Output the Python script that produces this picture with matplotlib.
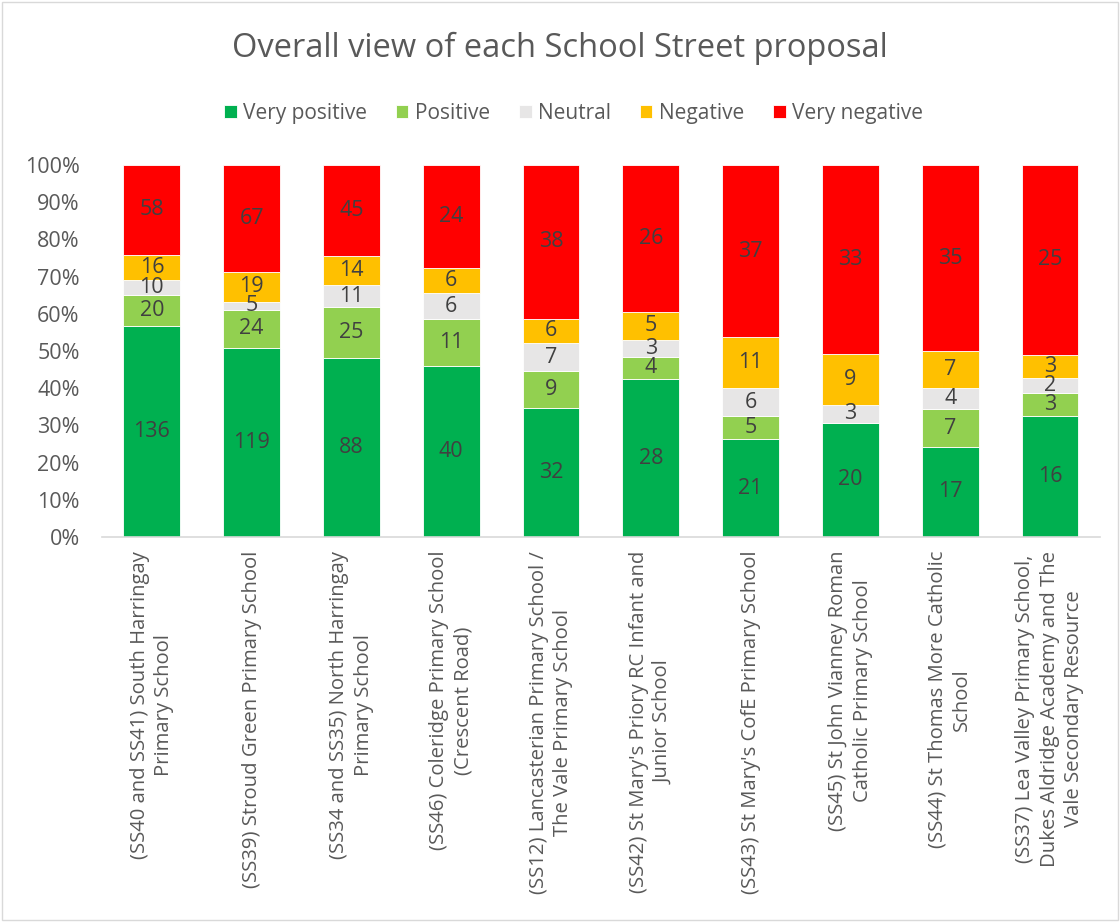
import matplotlib
matplotlib.use("Agg")
import matplotlib.pyplot as plt
import numpy as np
from matplotlib.patches import Rectangle

plt.rcParams['font.family'] = ['Open Sans', 'DejaVu Sans']

categories = [
    "(SS40 and SS41) South Harringay\nPrimary School",
    "(SS39) Stroud Green Primary School",
    "(SS34 and SS35) North Harringay\nPrimary School",
    "(SS46) Coleridge Primary School\n(Crescent Road)",
    "(SS12) Lancasterian Primary School /\nThe Vale Primary School",
    "(SS42) St Mary's Priory RC Infant and\nJunior School",
    "(SS43) St Mary's CofE Primary School",
    "(SS45) St John Vianney Roman\nCatholic Primary School",
    "(SS44) St Thomas More Catholic\nSchool",
    "(SS37) Lea Valley Primary School,\nDukes Aldridge Academy and The\nVale Secondary Resource",
]
very_positive = [136, 119, 88, 40, 32, 28, 21, 20, 17, 16]
positive = [20, 24, 25, 11, 9, 4, 5, 0, 7, 3]
neutral = [10, 5, 11, 6, 7, 3, 6, 3, 4, 2]
negative = [16, 19, 14, 6, 6, 5, 11, 9, 7, 3]
very_negative = [58, 67, 45, 24, 38, 26, 37, 33, 35, 25]

series_names = ["Very positive", "Positive", "Neutral", "Negative", "Very negative"]
series = [very_positive, positive, neutral, negative, very_negative]
colors = ["#00B050", "#92D050", "#E7E6E6", "#FFC000", "#FF0000"]
yticks = [0, 0.1, 0.2, 0.3, 0.4, 0.5, 0.6, 0.7, 0.8, 0.9, 1.0]
ytick_labels = ["0%", "10%", "20%", "30%", "40%", "50%", "60%", "70%", "80%", "90%", "100%"]

fig = plt.figure(figsize=(11.2, 9.22), dpi=100)
ax = fig.add_axes([0.091, 0.4176, 0.891, 0.4034])

data = np.array(series, dtype=float)
totals = data.sum(axis=0)
x = np.arange(len(categories))
bottom = np.zeros(len(categories))
text_color = "#404040"
for name, vals, col in zip(series_names, data, colors):
    frac = vals / totals
    ax.bar(x, frac, 0.57, bottom=bottom, color=col, label=name,
           edgecolor="white", linewidth=0.6)
    for xi, v, f, b in zip(x, vals, frac, bottom):
        if v > 0:
            ax.text(xi, b + f / 2, f"{int(v)}", ha="center", va="center",
                    fontsize=15.5, color=text_color)
    bottom += frac

ax.set_xlim(-0.5, len(categories) - 0.5)
ax.set_ylim(0, 1)
ax.set_yticks(yticks)
ax.set_yticklabels(ytick_labels, fontsize=15.5, color="#595959")
ax.set_xticks(x)
ax.set_xticklabels(categories, rotation=90, fontsize=14.6, color="#595959",
                   ha="center", va="top", multialignment="center", linespacing=1.3)
ax.tick_params(axis="y", length=0, pad=16)
ax.tick_params(axis="x", length=0, pad=10)
for s in ["top", "right", "left"]:
    ax.spines[s].set_visible(False)
ax.spines["bottom"].set_color("#D9D9D9")
ax.spines["bottom"].set_linewidth(1.2)

fig.text(0.5, 0.948, "Overall view of each School Street proposal", ha="center",
         va="center", fontsize=23.5, color="#595959")
fig.legend(loc="center", bbox_to_anchor=(0.512, 0.877), ncol=5, frameon=False,
           fontsize=15, handlelength=0.6, handleheight=0.6, handletextpad=0.3,
           columnspacing=1.4, labelcolor="#595959")

fig.patches.append(Rectangle((0.002, 0.002), 0.996, 0.996, transform=fig.transFigure,
                             fill=False, edgecolor="#D9D9D9", linewidth=1))

fig.savefig("out.png", dpi=100, facecolor="white")
